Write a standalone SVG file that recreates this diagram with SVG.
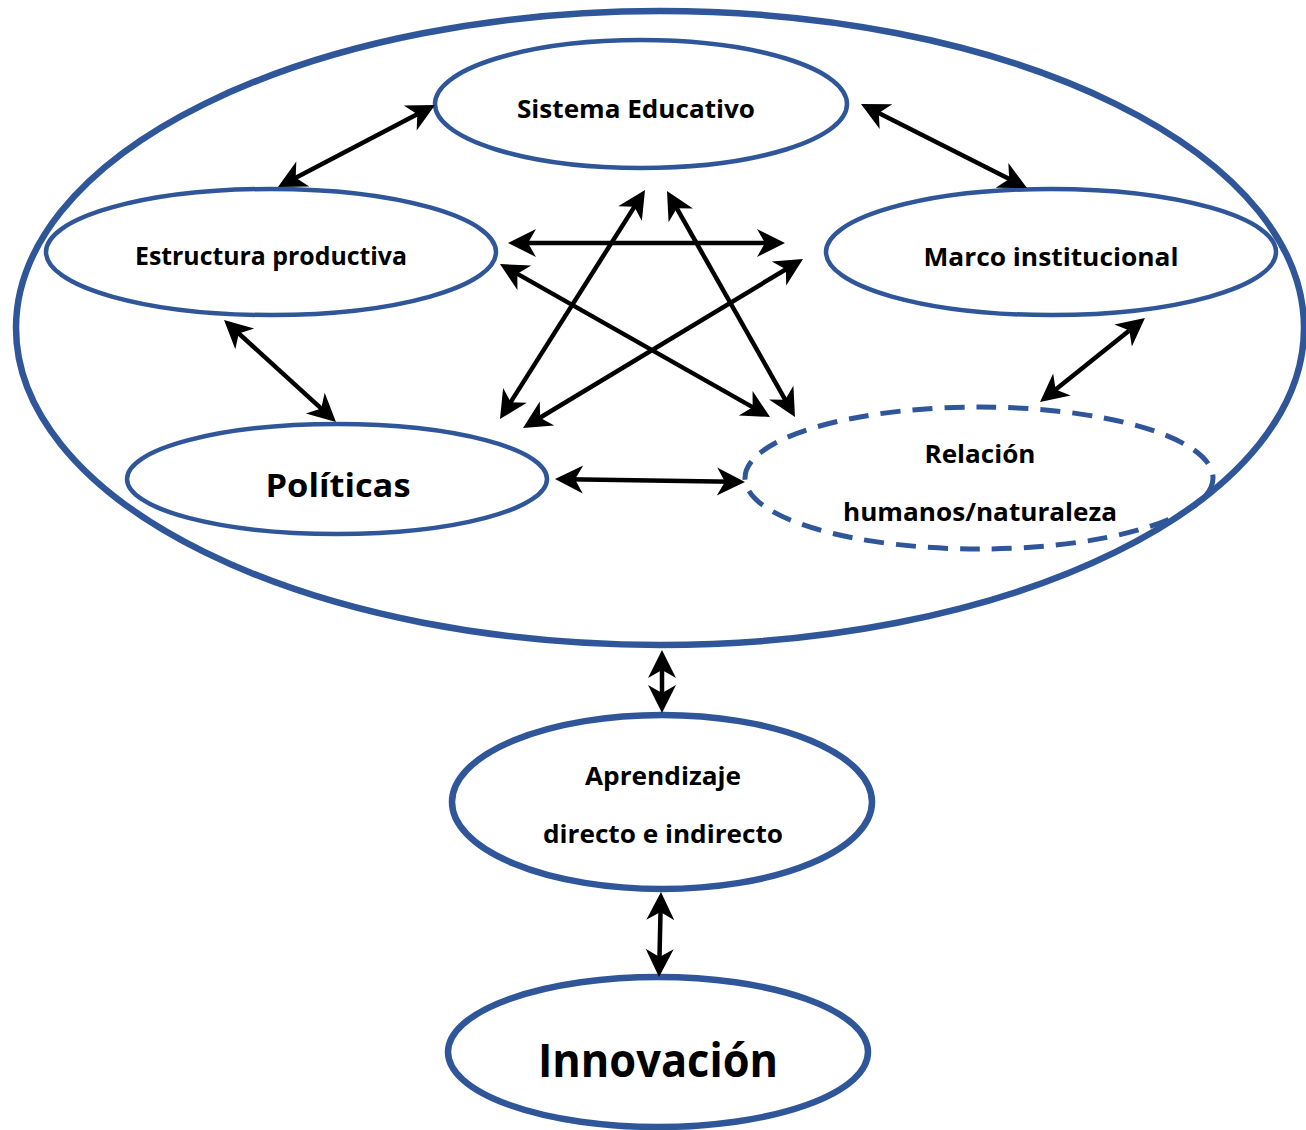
<svg xmlns="http://www.w3.org/2000/svg" width="1306" height="1130" viewBox="0 0 1306 1130">
<style>
.ell{fill:none;stroke:#30569a;}
.thick{stroke-width:6.5;}
.thin{stroke-width:4.5;}
.dash{stroke-width:5;stroke-dasharray:20 12;}
.lbl{font-family:"Open Sans",Lato,"Liberation Sans",sans-serif;font-weight:bold;fill:#000;text-anchor:middle;}
.arr{stroke:#000;stroke-width:4.5;fill:none;marker-start:url(#ah);marker-end:url(#ah);}
</style>
<defs>
<marker id="ah" markerUnits="userSpaceOnUse" orient="auto-start-reverse" refX="0" refY="0" markerWidth="40" markerHeight="40" overflow="visible">
<path d="M12,0 L-16,-14 L-8,0 L-16,14 Z" fill="#000"/>
</marker>
</defs>
<rect width="1306" height="1130" fill="#fff"/>
<g id="contexto"><ellipse class="ell thick" cx="660" cy="328" rx="644" ry="317"/></g>
<g id="sistema-educativo">
<ellipse class="ell thin" cx="641" cy="104" rx="206" ry="64"/>
<text class="lbl" x="636" y="118" font-size="25" textLength="238" lengthAdjust="spacingAndGlyphs">Sistema Educativo</text>
</g>
<g id="estructura-productiva">
<ellipse class="ell thin" cx="271" cy="252" rx="225" ry="63"/>
<text class="lbl" x="271" y="265" font-size="25" textLength="272" lengthAdjust="spacingAndGlyphs">Estructura productiva</text>
</g>
<g id="marco-institucional">
<ellipse class="ell thin" cx="1051" cy="252" rx="225" ry="63"/>
<text class="lbl" x="1051" y="266" font-size="25" textLength="255" lengthAdjust="spacingAndGlyphs">Marco institucional</text>
</g>
<g id="politicas">
<ellipse class="ell thin" cx="337" cy="479" rx="210" ry="55"/>
<text class="lbl" x="338" y="497" font-size="33" textLength="145" lengthAdjust="spacingAndGlyphs">Políticas</text>
</g>
<g id="relacion">
<ellipse class="ell dash" cx="979" cy="478" rx="234" ry="71"/>
<text class="lbl" x="980" y="463" font-size="25" textLength="111" lengthAdjust="spacingAndGlyphs">Relación</text>
<text class="lbl" x="980" y="521" font-size="25" textLength="274" lengthAdjust="spacingAndGlyphs">humanos/naturaleza</text>
</g>
<g id="aprendizaje">
<ellipse class="ell thick" cx="662" cy="802" rx="210" ry="87"/>
<text class="lbl" x="663" y="785" font-size="25" textLength="156" lengthAdjust="spacingAndGlyphs">Aprendizaje</text>
<text class="lbl" x="663" y="843" font-size="25" textLength="240" lengthAdjust="spacingAndGlyphs">directo e indirecto</text>
</g>
<g id="innovacion">
<ellipse class="ell thick" cx="658" cy="1052" rx="210" ry="75"/>
<text class="lbl" x="658" y="1077" font-size="46" textLength="240" lengthAdjust="spacingAndGlyphs">Innovación</text>
</g>
<g id="connectors">
<line class="arr" x1="424.4" y1="110.6" x2="288.6" y2="181.4"/>
<line class="arr" x1="871.7" y1="109.4" x2="1016.3" y2="182.6"/>
<line class="arr" x1="232.9" y1="328.1" x2="327.1" y2="413.9"/>
<line class="arr" x1="1135.6" y1="325.5" x2="1049.4" y2="394.5"/>
<line class="arr" x1="567" y1="479.2" x2="733" y2="481.8"/>
<line class="arr" x1="662" y1="662" x2="662" y2="701"/>
<line class="arr" x1="660.7" y1="904" x2="659.3" y2="965"/>
<line class="arr" x1="520" y1="243" x2="773" y2="243"/>
<line class="arr" x1="510.4" y1="269.9" x2="759.6" y2="411.1"/>
<line class="arr" x1="638.6" y1="200.1" x2="506.4" y2="408.9"/>
<line class="arr" x1="672.9" y1="201.4" x2="789.1" y2="406.6"/>
<line class="arr" x1="792.7" y1="265.2" x2="533.3" y2="421.8"/>
</g>
</svg>
